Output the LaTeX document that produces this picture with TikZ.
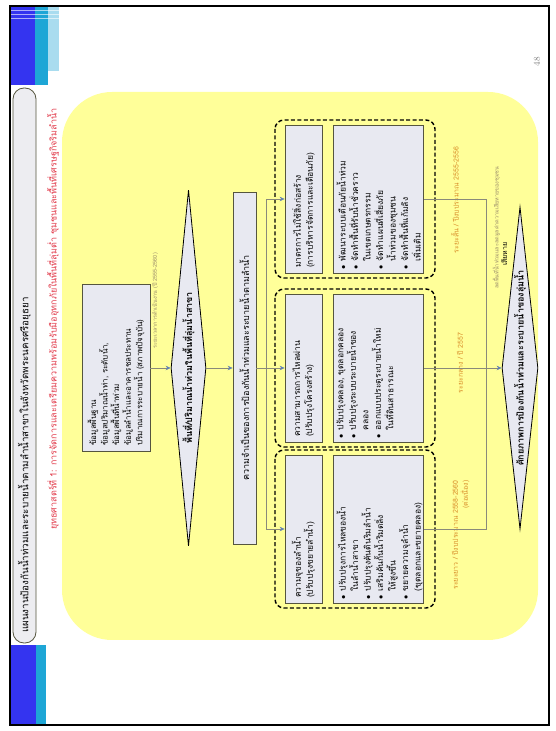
\documentclass[tikz,border=0pt]{standalone}
\usepackage{fontspec}
\newfontfamily\thai[Script=Thai]{Loma}
\usetikzlibrary{shapes.geometric,arrows.meta,positioning}

\definecolor{slideyellow}{HTML}{FFFF99}
\definecolor{boxfill}{HTML}{E8E9F1}
\definecolor{boxline}{HTML}{55553F}
\definecolor{barfill}{HTML}{EDEDF1}
\definecolor{linkgrey}{HTML}{8A8A7A}
\definecolor{arrowblue}{HTML}{5F7FB5}
\definecolor{termorange}{HTML}{D98F2B}
\definecolor{notegrey}{HTML}{9A8C6A}
\definecolor{subred}{HTML}{E23B4B}
\definecolor{cornerblue}{HTML}{3434F0}
\definecolor{cornercyan}{HTML}{1EA6D6}
\definecolor{cornerlight}{HTML}{A9DCEF}

\newcommand{\bul}{\makebox[8pt][l]{$\bullet$}}
\newcommand{\cnt}{\hspace*{8pt}}

\tikzset{
  box/.style={draw=boxline,fill=boxfill,line width=0.8pt,inner xsep=5pt,inner ysep=2pt},
  decision/.style={diamond,draw=black,fill=boxfill,line width=0.8pt,aspect=10,inner sep=0pt},
  group/.style={draw=black,line width=1.4pt,dash pattern=on 4pt off 2.4pt,rounded corners=9pt},
  link/.style={draw=linkgrey,line width=0.6pt},
  arr/.style={link,-{Stealth[length=5pt,width=4.5pt,color=arrowblue]}},
  listtext/.style={align=left,inner sep=0pt,font=\thai\fontsize{8.5}{12.5}\selectfont},
  term/.style={text=termorange,font=\thai\fontsize{7}{9}\selectfont,inner sep=1pt},
  note/.style={text=notegrey,font=\thai\fontsize{5.5}{7}\selectfont,inner sep=1pt}
}

\begin{document}
\begin{tikzpicture}[x=1pt,y=1pt,font=\thai]
	\useasboundingbox (0,0) rectangle (556,731);
	\fill[white] (0,0) rectangle (556,731);
	% the slide is turned on its side
	\begin{scope}[shift={(556,0)},rotate=90,transform shape]
		\draw[line width=2.5pt] (6,7) rectangle (725,546);
		% corner bars
		\fill[cornerblue] (646,521) rectangle (724,545);
		\fill[cornercyan] (646,508) rectangle (724,521);
		\fill[cornerlight] (660,497) rectangle (724,508);
		\foreach \s in {712,716,720}
			\draw[white,opacity=0.6,line width=1pt] (\s,497) -- (\s,545);
		\fill[cornerblue] (7,520) rectangle (86,545);
		\fill[cornercyan] (7,510) rectangle (86,520);
		% title
		\node[draw=boxline,fill=barfill,line width=0.8pt,rounded corners=11pt,minimum width=555,minimum height=23,text width=535,align=left,inner xsep=10pt,font=\thai\fontsize{9.8}{12}\selectfont] (title) at (365.5,531.5) {แผนงานป้องกันน้ำท่วมและระบายน้ำตามลำน้ำสาขาในจังหวัดพระนครศรีอยุธยา};
		\node[anchor=west,text=subred,inner sep=0pt,font=\thai\fontsize{9}{10}\selectfont] (subtitle) at (201,503) {ยุทธศาสตร์ที่ 1: การจัดการและเตรียมความพร้อมรับมืออุทกภัยในพื้นที่ลุ่มต่ำ ชุมชนและพื้นที่เศรษฐกิจริมลำน้ำ};
		% yellow area
		\fill[slideyellow,rounded corners=50pt] (91,18) rectangle (639,494);
		% upper chain
		\node[box,minimum width=167,minimum height=68,text width=155,align=left,font=\thai\fontsize{8}{10.5}\selectfont] (data) at (363,440) {ข้อมูลพื้นฐาน\\ข้อมูลปริมาณน้ำท่า, ระดับน้ำ,\\ข้อมูลพื้นที่น้ำท่วม\\ข้อมูลลำน้ำและอาคารชลประทาน\\ปริมาณการระบายน้ำ (สภาพปัจจุบัน)};
		\node[note,anchor=west] (datanote) at (381,401) {ระยะเวลาการดำเนินงาน (ปี 2555-2560)};
		\node[decision,minimum width=356,minimum height=35,font=\thai\bfseries\fontsize{9}{10}\selectfont] (flood) at (363,367.5) {พื้นที่/ปริมาณน้ำท่วมในพื้นที่ลุ่มน้ำสาขา};
		\node[box,minimum width=352,minimum height=23,font=\thai\fontsize{9}{10}\selectfont] (need) at (363,311.5) {ความจำเป็นของการป้องกันน้ำท่วมและระบายน้ำตามลำน้ำ};
		% three groups
		\node[group,minimum width=158,minimum height=160] (lgroup) at (202,201) {};
		\node[group,minimum width=158,minimum height=160] (mgroup) at (363,201) {};
		\node[group,minimum width=158,minimum height=160] (rgroup) at (532,201) {};
		\node[box,minimum width=148,minimum height=37,text width=138,align=left,font=\thai\fontsize{8.5}{12}\selectfont] (lhead) at (202,252.5) {ความจุของลำน้ำ\\(ปรับปรุงขยายลำน้ำ)};
		\node[box,minimum width=148,minimum height=37,text width=138,align=left,font=\thai\fontsize{8.5}{12}\selectfont] (mhead) at (363,252.5) {ความสามารถการไหลผ่าน\\(ปรับปรุงโครงสร้าง)};
		\node[box,minimum width=148,minimum height=37,text width=138,align=left,font=\thai\fontsize{8.5}{12}\selectfont] (rhead) at (532,252.5) {มาตรการไม่ใช้สิ่งก่อสร้าง\\(การบริหารจัดการและเตือนภัย)};
		\node[box,below=11pt of lhead,minimum width=148,minimum height=90] (llist) {};
		\node[box,below=11pt of mhead,minimum width=148,minimum height=90] (mlist) {};
		\node[box,below=11pt of rhead,minimum width=148,minimum height=90] (rlist) {};
		\node[listtext,anchor=north west] (llisttxt) at ([xshift=4pt,yshift=-3pt]llist.north west) {\bul ปรับปรุงการไหลของน้ำ\\\cnt ในลำน้ำสาขา\\\bul ปรับปรุงคันดินริมลำน้ำ\\\bul เสริมคันกั้นน้ำริมตลิ่ง\\\cnt ให้สูงขึ้น\\\bul ขยายความจุลำน้ำ\\\cnt (ขุดลอกและขยายคลอง)};
		\node[listtext,anchor=north west] (mlisttxt) at ([xshift=4pt,yshift=-3pt]mlist.north west) {\bul ปรับปรุงคลอง, ขุดลอกคลอง\\\bul ปรับปรุงระบบระบายน้ำของ\\\cnt คลอง\\\bul ออกแบบประตูระบายน้ำใหม่\\\cnt ในที่ดินสาธารณะ};
		\node[listtext,anchor=north west] (rlisttxt) at ([xshift=4pt,yshift=-3pt]rlist.north west) {\bul พัฒนาระบบเตือนภัยน้ำท่วม\\\bul จัดทำพื้นที่รับน้ำชั่วคราว\\\cnt ในเขตเกษตรกรรม\\\bul จัดทำแผนที่เสี่ยงภัย\\\cnt น้ำท่วมของชุมชน\\\bul จัดทำพื้นที่แก้มลิง\\\cnt เพิ่มเติม};
		% result
		\node[decision,minimum width=322,minimum height=36,font=\thai\bfseries\fontsize{9}{10}\selectfont] (goal) at (363,36) {ศักยภาพการป้องกันน้ำท่วมและระบายน้ำของลุ่มน้ำ};
		\node[term] (lterm) at (196,95) {\begin{tabular}{@{}r@{}}ระยะยาว / ปีงบประมาณ 2558-2560\\(ต่อเนื่อง)\end{tabular}};
		\node[term] (mterm) at (368,96) {ระยะกลาง / ปี 2557};
		\node[term] (rterm) at (531,101) {ระยะสั้น / ปีงบประมาณ 2555-2556};
		\node[note,anchor=west,align=left] (goalnote) at (441,56) {ลดพื้นที่น้ำท่วมและลดมูลค่าความเสียหายของชุมชน\\\hspace*{23pt}{\fontsize{7}{8}\selectfont\color{black}เสียหาย}};
		\node[text=gray,font=\fontsize{9}{10}\selectfont] (pageno) at (669,19) {48};
		% connectors
		\coordinate (lsplit) at (202,290);
		\coordinate (rsplit) at (532,290);
		\coordinate (ljoin) at (202,70);
		\coordinate (rjoin) at (532,70);
		\draw[arr] (data) -- (flood);
		\draw[arr] (flood) -- (need);
		\draw[arr] (need) -- (mhead);
		\draw[link] (lsplit) -- (rsplit);
		\draw[arr] (lsplit) -- (lhead);
		\draw[arr] (rsplit) -- (rhead);
		\draw[link] (llist) -- (ljoin) -- (rjoin) -- (rlist);
		\draw[arr] (mlist) -- (goal);
	\end{scope}
\end{tikzpicture}
\end{document}
